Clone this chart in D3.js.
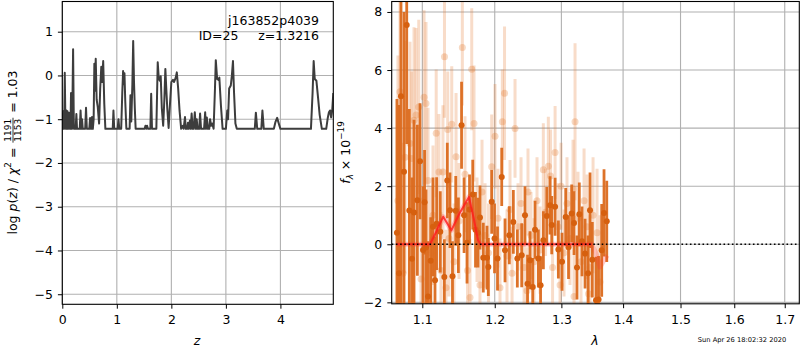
<!DOCTYPE html>
<html>
<head>
<meta charset="utf-8">
<script src="https://cdn.jsdelivr.net/npm/d3@7"></script>
<style>
  body { margin: 0; background: #fff; }
  svg { display: block; font-family: "DejaVu Sans", sans-serif; }
</style>
</head>
<body>
<svg id="fig" width="800" height="350"></svg>
<script>
// ---- redshift probability curve: log p(z) on a z grid ----
const pzRedshift = [
  0.000,0.008,0.016,0.024,0.034,0.045,0.055,0.063,0.075,0.085,0.095,0.105,0.125,0.135,0.150,0.160,0.170,0.180,0.198,0.212,
  0.245,0.258,0.270,0.320,0.335,0.350,0.362,0.375,0.420,0.435,0.450,0.495,0.510,0.525,0.535,0.545,0.560,0.575,0.588,0.600,
  0.613,0.630,0.650,0.675,0.695,0.715,0.730,0.750,0.770,0.790,0.925,0.938,0.952,1.015,1.030,1.045,1.080,1.100,1.115,1.128,
  1.140,1.155,1.175,1.235,1.250,1.265,1.285,1.300,1.315,1.330,1.345,1.510,1.525,1.540,1.555,1.570,1.615,1.630,1.645,1.725,
  1.750,1.770,1.790,1.805,1.825,1.850,1.870,1.890,1.905,1.925,1.950,1.975,2.000,2.030,2.050,2.080,2.100,2.125,2.150,2.180,
  2.210,2.225,2.250,2.265,2.290,2.305,2.320,2.340,2.355,2.372,2.390,2.410,2.430,2.450,2.465,2.480,2.510,2.527,2.545,2.600,
  2.620,2.635,2.650,2.670,2.695,2.710,2.730,2.750,2.775,2.800,2.815,2.840,2.860,2.880,2.910,2.940,3.000,3.025,3.040,3.060,
  3.090,3.110,3.130,3.150,3.175,3.200,3.530,3.550,3.575,3.650,3.670,3.695,3.880,3.910,3.940,3.970,4.000,4.560,4.590,4.610,
  4.630,4.660,4.690,4.720,4.760,4.840,4.870,4.890,4.910,4.930,4.950,4.970
];
const pzLogProb = [
  -0.85,-1.22,-0.82,-1.22,-1.22,0.06,-0.85,-1.22,-0.80,-1.22,-0.82,-1.22,-0.85,-1.22,-1.22,-0.40,-1.22,-1.22,0.60,-1.22,
  -1.22,-0.88,-1.22,-1.22,-0.80,-1.22,-1.00,-1.22,-1.22,-0.74,-1.22,-1.22,-0.97,-1.22,-1.22,-0.95,-1.22,-1.00,0.27,-0.35,
  0.38,-0.55,-0.72,-1.10,-0.30,0.20,-0.15,0.33,-0.65,-1.22,-1.22,-0.80,-1.22,-1.22,-1.00,-1.22,-1.22,-0.40,0.10,-0.20,
  0.05,-0.60,-1.22,-1.22,-0.45,-1.05,-0.20,0.79,-0.15,-0.75,-1.22,-1.22,-1.15,-1.22,-1.15,-1.22,-1.22,-0.42,-1.22,-1.22,
  0.30,-0.08,-0.12,-0.02,-0.75,-1.15,-0.60,0.15,-0.25,-0.75,-1.20,-0.65,-0.15,-0.10,-0.15,-0.05,0.07,-0.30,-0.80,-1.22,
  -1.15,-1.22,-0.95,-1.22,-1.22,-1.08,-1.22,-1.03,-1.22,-0.87,-1.22,-1.22,-0.84,-1.22,-1.00,-1.22,-1.22,-0.87,-1.22,-1.22,
  -0.84,-1.22,-0.96,-1.22,-1.22,-1.00,-1.15,-1.10,-1.22,-0.30,0.35,-0.08,-0.10,-0.05,-0.70,-1.22,-1.22,-0.80,-1.00,-0.30,
  -0.23,0.00,0.33,-0.40,-1.10,-1.22,-1.22,-0.85,-1.22,-1.22,-0.80,-1.22,-1.22,-1.06,-0.97,-1.10,-1.22,-1.22,-0.40,0.33,
  -0.08,-0.12,-0.50,-0.90,-1.22,-1.22,-0.96,-0.84,-0.80,-0.96,-0.80,-0.40
];
const zTicks = [0, 1, 2, 3, 4];
const logpTicks = [-5, -4, -3, -2, -1, 0, 1];

// ---- grism spectrum: binned points (strong) and pixel points (faint) ----
const binWave = [
  1.0670,1.0696,1.0722,1.0761,1.0796,1.0830,1.0865,1.0891,1.0935,1.0970,1.1010,1.1030,1.1049,1.1076,1.1111,1.1142,1.1169,1.1191,1.1240,1.1295,
  1.1335,1.1372,1.1406,1.1451,1.1487,1.1531,1.1566,1.1607,1.1642,1.1687,1.1726,1.1761,1.1789,1.1836,1.1889,1.1908,1.1956,1.1997,1.2040,1.2101,
  1.2149,1.2212,1.2271,1.2330,1.2395,1.2444,1.2482,1.2519,1.2560,1.2595,1.2645,1.2679,1.2722,1.2774,1.2824,1.2850,1.2902,1.2953,1.3010,1.3068,
  1.3112,1.3162,1.3199,1.3246,1.3283,1.3326,1.3375,1.3423,1.3455,1.3492,1.3552,1.3593,1.3645,1.3683,1.3728
];
const binFlux = [
  0.40,-1.00,5.10,2.50,7.55,1.16,-0.50,1.09,1.52,2.86,-0.20,1.45,-0.11,-1.80,-0.57,0.60,-1.24,0.71,0.43,-1.13,
  2.20,1.17,-1.10,1.15,0.31,4.10,1.00,0.05,1.20,1.71,0.50,0.40,0.92,-0.46,-0.46,-0.78,1.46,0.20,-0.49,2.32,
  -0.21,0.31,0.77,-0.49,-0.38,1.00,-1.36,-0.55,-1.47,0.50,-0.49,-1.41,0.14,0.97,1.34,0.66,1.29,-0.18,-0.60,0.94,
  -0.10,1.06,0.73,-0.80,1.03,0.10,-0.32,-1.00,1.17,-0.53,-1.93,-1.90,-0.21,1.08,0.79
];
const binErr = [
  4.6,5.8,7.3,5.5,4.1,3.5,2.8,3.2,2.6,2.0,2.2,1.8,2.0,1.9,1.5,1.7,1.5,1.6,1.4,1.3,
  1.3,1.3,1.2,1.2,1.3,1.5,1.3,1.4,1.2,1.2,1.3,1.2,1.1,1.2,1.1,1.0,1.1,1.2,1.1,1.0,
  1.1,1.0,1.1,1.0,1.1,1.0,1.0,1.0,1.0,1.0,1.0,1.0,1.0,1.0,1.0,1.0,1.0,1.0,1.0,1.0,
  1.1,1.0,1.1,1.1,1.1,1.2,1.2,1.3,1.3,1.3,1.5,1.5,1.6,1.5,1.4
];
const pixWave = [
  1.0683,1.0709,1.0748,1.0774,1.0839,1.0861,1.0891,1.0918,1.0953,1.0983,1.1023,1.1049,1.1076,1.1115,1.1142,1.1185,1.1222,1.1249,1.1276,1.1297,
  1.1318,1.1341,1.1358,1.1396,1.1427,1.1455,1.1496,1.1542,1.1579,1.1614,1.1649,1.1673,1.1705,1.1747,1.1789,1.1818,1.1861,1.1911,1.1956,1.2004,
  1.2047,1.2076,1.2110,1.2142,1.2178,1.2222,1.2252,1.2296,1.2340,1.2385,1.2430,1.2474,1.2489,1.2534,1.2580,1.2625,1.2671,1.2721,1.2755,1.2798,
  1.2832,1.2863,1.2902,1.2948,1.2979,1.2995,1.3041,1.3088,1.3135,1.3183,1.3199,1.3215,1.3262,1.3310,1.3359,1.3407,1.3431,1.3455,1.3504,1.3569,
  1.3617
];
const pixFlux = [
  1.50,5.25,-1.00,3.00,3.47,2.95,4.27,4.45,4.73,-1.20,5.06,4.85,2.20,-0.30,1.00,3.82,2.49,-0.90,2.49,6.46,
  -1.50,3.95,0.20,4.13,-0.60,3.01,0.80,6.78,2.41,-0.90,-1.83,6.03,4.16,0.50,-1.40,1.80,0.30,-0.30,2.67,3.72,
  0.90,-1.50,4.22,5.20,-0.40,1.20,-1.00,3.99,0.60,1.40,-0.80,-1.60,1.80,0.30,-0.60,1.50,-0.20,2.57,1.10,2.69,
  2.35,-0.80,3.16,0.60,-1.40,2.00,-0.30,1.40,0.20,1.90,-1.80,4.22,0.90,-0.60,1.50,0.60,-1.70,-0.80,1.00,0.40,
  -1.30
];
const pixErr = [
  5.0,4.0,4.5,4.0,3.5,3.0,3.2,3.0,3.0,2.8,3.0,2.8,2.5,2.3,2.4,2.2,2.0,2.0,2.3,2.1,
  2.0,2.0,2.0,2.0,2.0,2.2,2.0,2.0,2.0,2.0,2.0,2.1,2.0,1.8,1.8,1.8,1.8,1.7,1.8,1.8,
  1.7,1.7,1.8,2.3,1.6,1.7,1.6,1.7,1.5,1.6,1.5,1.5,1.5,1.5,1.5,1.5,1.5,1.6,1.5,1.7,
  1.6,1.5,1.6,1.5,1.5,1.5,1.5,1.6,1.6,1.7,1.6,2.7,1.6,1.7,1.8,1.8,1.8,1.8,2.0,2.2,
  2.3
];

// ---- best-fit model traces ----
const modelWave = [1.0660,1.1102,1.1190,1.1280,1.1391,1.1500,1.1634,1.1700,1.1761,1.1800,1.3483];
const modelFlux = [0.00,0.00,0.45,0.95,0.48,1.05,1.63,0.90,0.14,0.00,0.00];
const modelPixWave = [1.0660,1.1102,1.1190,1.1280,1.1391,1.1500,1.1634,1.1700,1.1761,1.1800,1.3483,1.3552,1.3617,1.3680,1.3735];
const modelPixFlux = [0.00,0.00,0.45,0.95,0.48,1.05,1.63,0.90,0.14,0.00,0.00,-0.32,-0.78,-0.55,-0.38];

const waveTicks = [1.1, 1.2, 1.3, 1.4, 1.5, 1.6, 1.7];
const fluxTicks = [-2, 0, 2, 4, 6, 8];

const objectName = "j163852p4039";
const objectInfo = "ID=25     z=1.3216";
const stamp = "Sun Apr 26 18:02:32 2020";

// ---------------------------------------------------------------
const svg = d3.select("#fig");
const FS = 12.5;
const GRID = "#b0b0b0";

const L = { x0: 62.3, x1: 333.3, y0: 1.5, y1: 304.3 };
const R = { x0: 391.7, x1: 799.3, y0: 1.5, y1: 303.8 };

const zx = d3.scaleLinear().domain([0, 4.97]).range([L.x0, L.x1]);
const zy = d3.scaleLinear().domain([-5.23, 1.69]).range([L.y1, L.y0]);
const wx = d3.scaleLog().domain([1.0603, 1.730]).range([R.x0, R.x1]);
const fy = d3.scaleLinear().domain([-2.05, 8.36]).range([R.y1, R.y0]);

const defs = svg.append("defs");
defs.append("clipPath").attr("id", "clipL").append("rect")
  .attr("x", L.x0).attr("y", L.y0).attr("width", L.x1 - L.x0).attr("height", L.y1 - L.y0);
defs.append("clipPath").attr("id", "clipR").append("rect")
  .attr("x", R.x0).attr("y", R.y0).attr("width", R.x1 - R.x0).attr("height", R.y1 - R.y0);

function grid(box, xs, xTicks, ys, yTicks) {
  const g = svg.append("g");
  g.selectAll("line.v").data(xTicks).join("line")
    .attr("x1", d => xs(d)).attr("x2", d => xs(d)).attr("y1", box.y0).attr("y2", box.y1)
    .attr("stroke", GRID).attr("stroke-width", 1.1);
  g.selectAll("line.h").data(yTicks).join("line")
    .attr("y1", d => ys(d)).attr("y2", d => ys(d)).attr("x1", box.x0).attr("x2", box.x1)
    .attr("stroke", GRID).attr("stroke-width", 1.1);
}

function axes(box, xs, xTicks, xFmt, ys, yTicks, yFmt) {
  const ax = svg.append("g").attr("transform", `translate(0,${box.y1})`)
    .call(d3.axisBottom(xs).tickValues(xTicks).tickFormat(xFmt).tickSizeInner(4.4).tickSizeOuter(0).tickPadding(6.5));
  const ay = svg.append("g").attr("transform", `translate(${box.x0},0)`)
    .call(d3.axisLeft(ys).tickValues(yTicks).tickFormat(yFmt).tickSizeInner(4.4).tickSizeOuter(0).tickPadding(5));
  [ax, ay].forEach(a => {
    a.select(".domain").remove();
    a.selectAll("text").attr("font-size", FS).attr("font-family", "DejaVu Sans").attr("fill", "#000");
    a.selectAll("line").attr("stroke", "#000").attr("stroke-width", 1);
  });
  svg.append("rect").attr("x", box.x0).attr("y", box.y0)
    .attr("width", box.x1 - box.x0).attr("height", box.y1 - box.y0)
    .attr("fill", "none").attr("stroke", "#000").attr("stroke-width", 1.1);
}

// ---------------- left panel: p(z) ----------------
grid(L, zx, zTicks, zy, logpTicks);
const gL = svg.append("g").attr("clip-path", "url(#clipL)");
gL.append("path")
  .attr("d", d3.line().x((d, i) => zx(pzRedshift[i])).y((d, i) => zy(pzLogProb[i]))(pzRedshift))
  .attr("fill", "none").attr("stroke", "#3d3d3d").attr("stroke-width", 2)
  .attr("stroke-linejoin", "round");
axes(L, zx, zTicks, d3.format("d"), zy, logpTicks, d3.format("d"));

svg.append("text").attr("x", 319).attr("y", 24.5).attr("text-anchor", "end")
  .attr("font-size", FS).text(objectName);
svg.append("text").attr("x", 319).attr("y", 39.5).attr("text-anchor", "end")
  .attr("font-size", FS).attr("xml:space", "preserve").style("white-space", "pre").text(objectInfo);

// ---------------- right panel: spectrum ----------------
grid(R, wx, waveTicks, fy, fluxTicks);
const gR = svg.append("g").attr("clip-path", "url(#clipR)");
const idxPix = d3.range(pixWave.length);
const idxBin = d3.range(binWave.length);

gR.selectAll("line.pix").data(idxPix).join("line")
  .attr("x1", i => wx(pixWave[i])).attr("x2", i => wx(pixWave[i]))
  .attr("y1", i => fy(pixFlux[i] - pixErr[i])).attr("y2", i => fy(pixFlux[i] + pixErr[i]))
  .attr("stroke", "#e27526").attr("stroke-opacity", 0.25).attr("stroke-width", 3);
gR.selectAll("circle.pix").data(idxPix).join("circle")
  .attr("cx", i => wx(pixWave[i])).attr("cy", i => fy(pixFlux[i])).attr("r", 3.5)
  .attr("fill", "#e27526").attr("fill-opacity", 0.28);

gR.selectAll("line.bin").data(idxBin).join("line")
  .attr("x1", i => wx(binWave[i])).attr("x2", i => wx(binWave[i]))
  .attr("y1", i => fy(binFlux[i] - binErr[i])).attr("y2", i => fy(binFlux[i] + binErr[i]))
  .attr("stroke", "#db6a1d").attr("stroke-opacity", 0.95).attr("stroke-width", 2.8);
gR.selectAll("circle.bin").data(idxBin).join("circle")
  .attr("cx", i => wx(binWave[i])).attr("cy", i => fy(binFlux[i])).attr("r", 3)
  .attr("fill", "#d6600f");

const modelLine = (ws, fs) => d3.line().x((d, i) => wx(ws[i])).y((d, i) => fy(fs[i]))(ws);
gR.append("path").attr("d", modelLine(modelPixWave, modelPixFlux))
  .attr("fill", "none").attr("stroke", "#ff3030").attr("stroke-opacity", 0.25)
  .attr("stroke-width", 5).attr("stroke-linejoin", "round");
gR.append("path").attr("d", modelLine(modelWave, modelFlux))
  .attr("fill", "none").attr("stroke", "#ff1a1a").attr("stroke-opacity", 0.8)
  .attr("stroke-width", 2).attr("stroke-linejoin", "round");

gR.append("line").attr("x1", R.x0).attr("x2", R.x1).attr("y1", fy(0)).attr("y2", fy(0))
  .attr("stroke", "#000").attr("stroke-width", 1.6).attr("stroke-dasharray", "1.6,2.6");

axes(R, wx, waveTicks, d3.format(".1f"), fy, fluxTicks, d3.format("d"));

// ---------------- axis labels ----------------
svg.append("text").attr("x", 197).attr("y", 345).attr("text-anchor", "middle")
  .attr("font-size", FS).attr("font-style", "italic").text("z");
svg.append("text").attr("x", 595).attr("y", 345).attr("text-anchor", "middle")
  .attr("font-size", FS).attr("font-style", "italic").text("λ");

// sequential layout of simple math runs along a rotated baseline
function mathLabel(cx, cy, parts) {
  const outer = svg.append("g").attr("transform", `translate(${cx},${cy}) rotate(-90)`);
  const g = outer.append("g");
  let x = 0;
  parts.forEach(p => {
    if (p.frac) {
      const fs = FS * 0.72;
      const a = g.append("text").attr("font-size", fs).text(p.frac[0]);
      const b = g.append("text").attr("font-size", fs).text(p.frac[1]);
      const w = Math.max(a.node().getComputedTextLength(), b.node().getComputedTextLength()) + 2;
      const bar = -FS * 0.32;
      a.attr("x", x + 1 + w / 2).attr("y", bar - 1.6).attr("text-anchor", "middle");
      b.attr("x", x + 1 + w / 2).attr("y", bar + 1.6 + fs * 0.73).attr("text-anchor", "middle");
      g.append("line").attr("x1", x + 1).attr("x2", x + 1 + w).attr("y1", bar).attr("y2", bar)
        .attr("stroke", "#000").attr("stroke-width", 0.8);
      x += w + 2;
    } else {
      const fs = p.size ? FS * p.size : FS;
      const t = g.append("text").attr("x", x).attr("y", p.dy || 0).attr("font-size", fs)
        .attr("xml:space", "preserve").style("white-space", "pre").text(p.t);
      if (p.it) t.attr("font-style", "italic");
      x += t.node().getComputedTextLength();
    }
  });
  g.attr("transform", `translate(${-x / 2},0)`);
}

mathLabel(17, 152.5, [
  { t: "log " }, { t: "p", it: true }, { t: "(" }, { t: "z", it: true }, { t: ") / " },
  { t: "χ", it: true }, { t: "2", size: 0.7, dy: -FS * 0.45 }, { t: " = " },
  { frac: ["1191", "1153"] }, { t: " = 1.03" }
]);
mathLabel(350, 152.5, [
  { t: "f", it: true }, { t: "λ", it: true, size: 0.7, dy: FS * 0.25 }, { t: " × 10" },
  { t: "−19", size: 0.7, dy: -FS * 0.45 }
]);

svg.append("text").attr("x", 742).attr("y", 342).attr("text-anchor", "middle")
  .attr("font-size", 6.7).text(stamp);
</script>
</body>
</html>
